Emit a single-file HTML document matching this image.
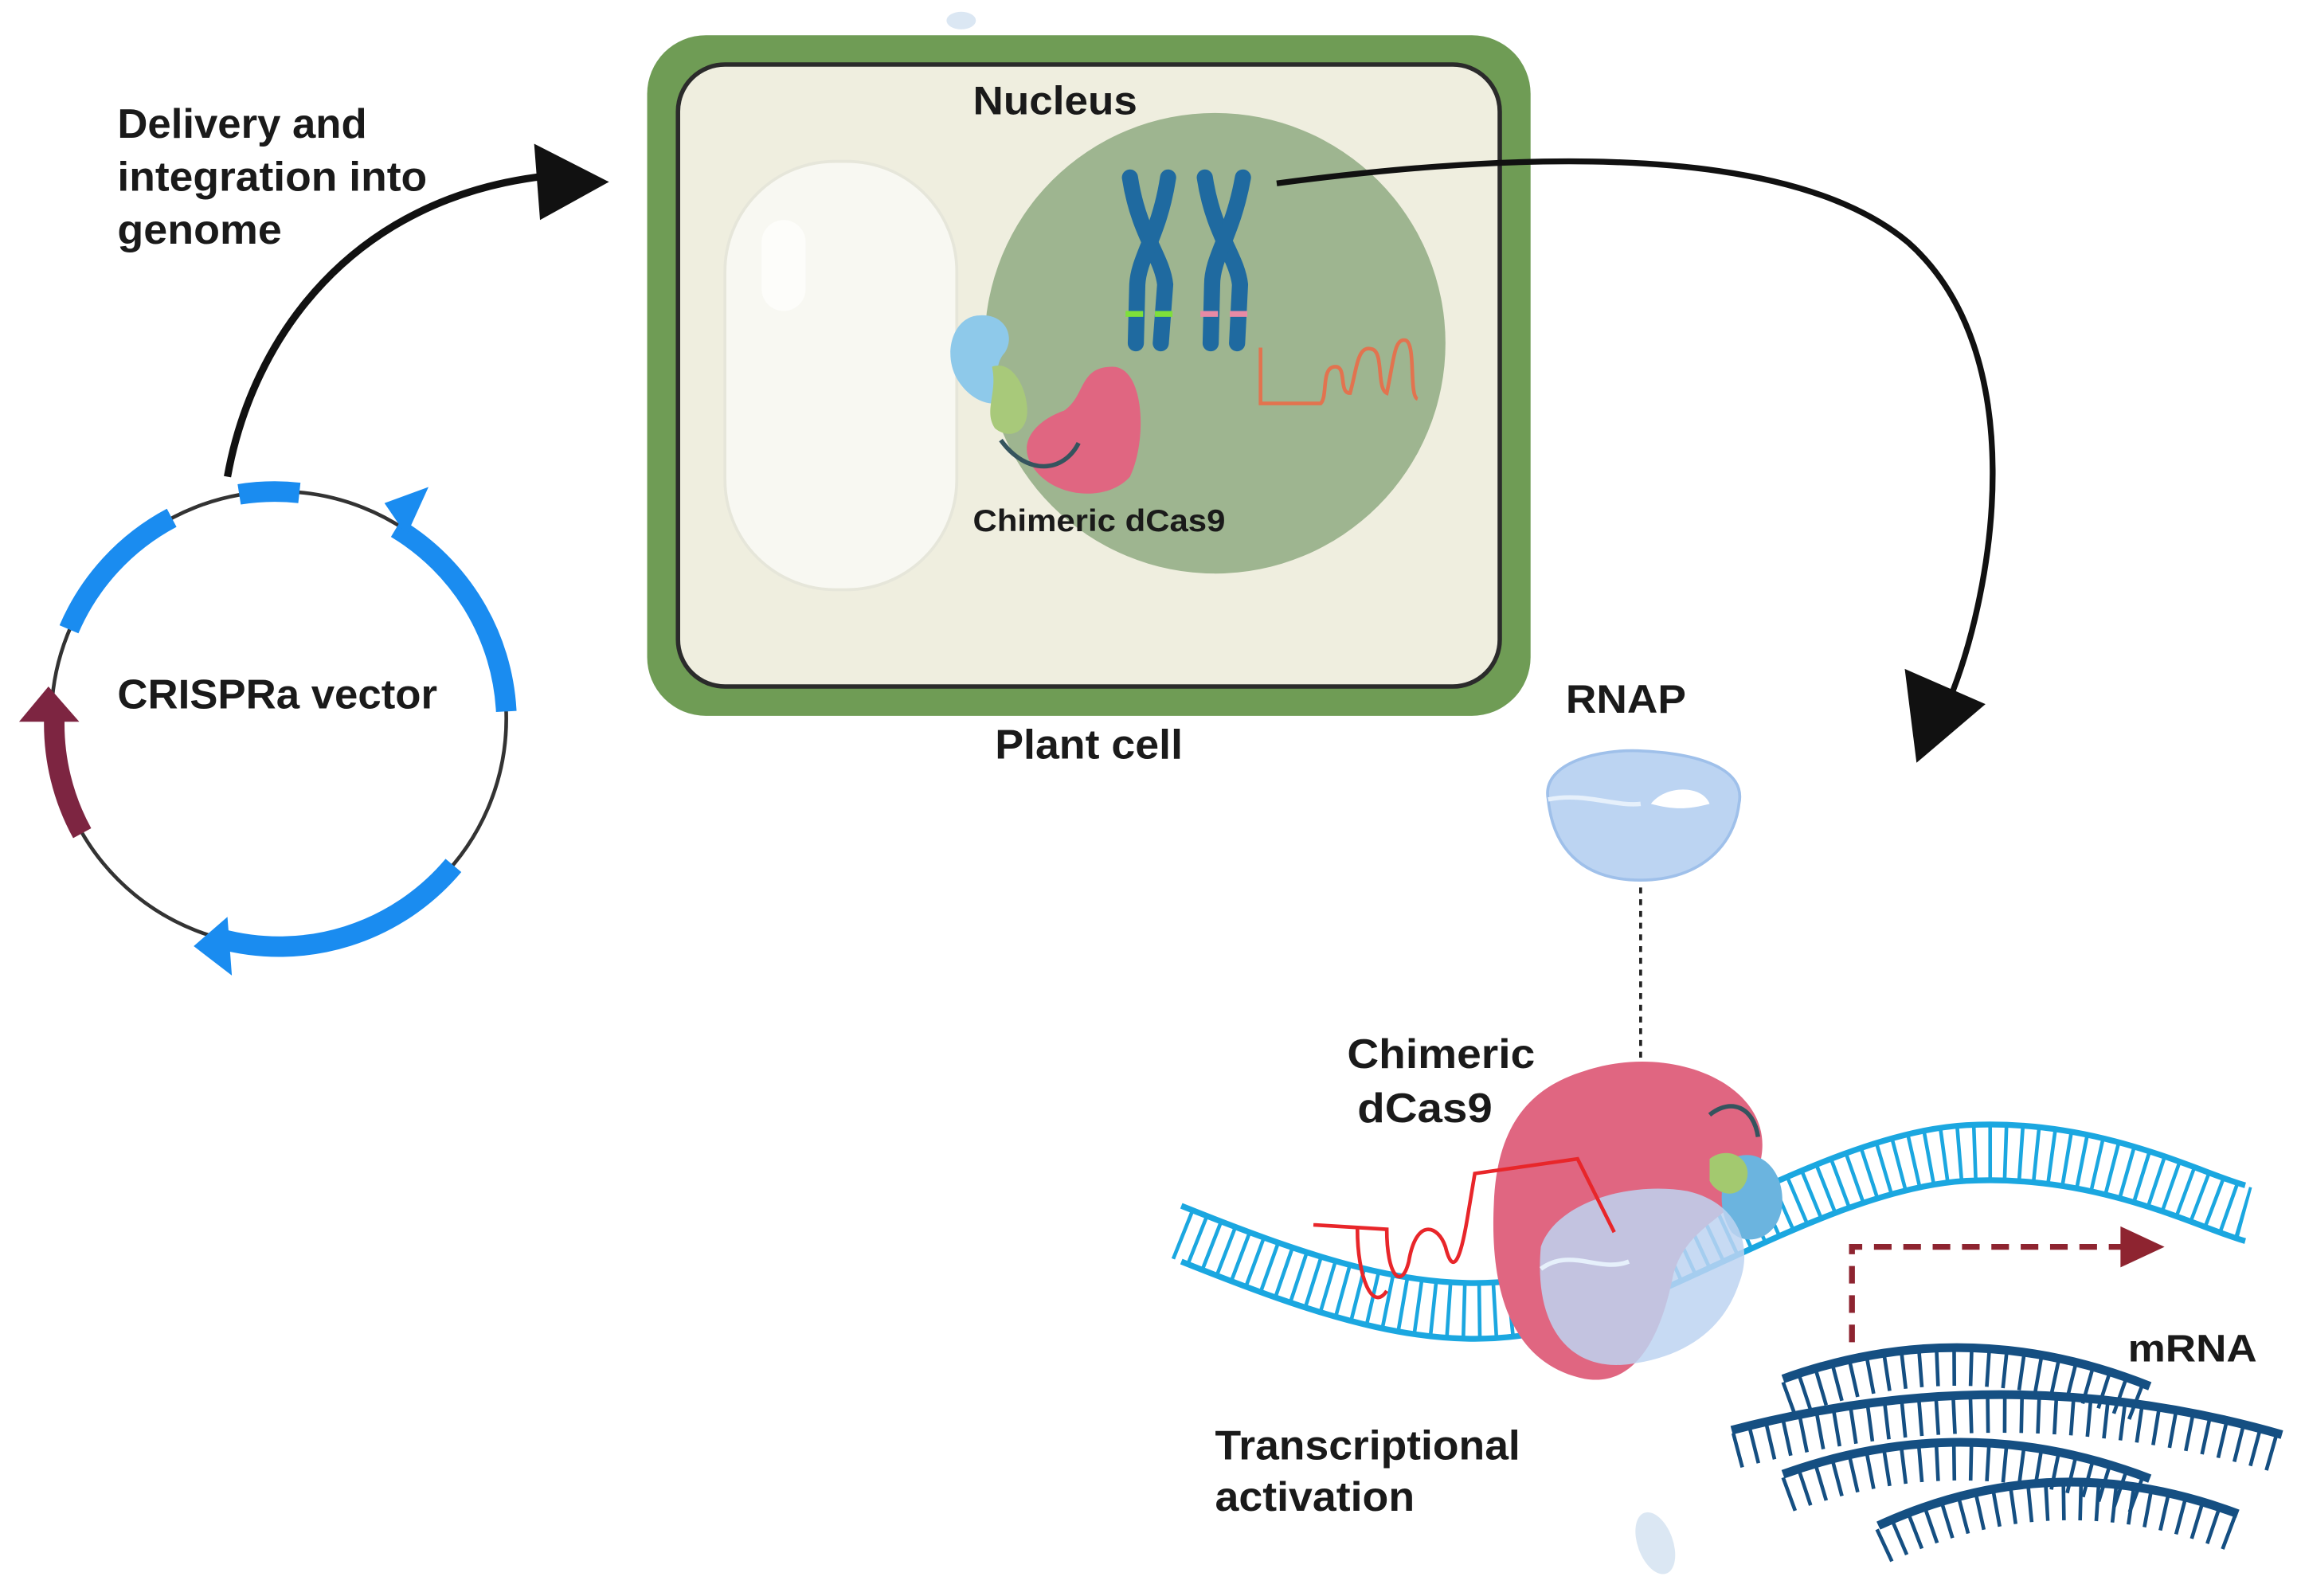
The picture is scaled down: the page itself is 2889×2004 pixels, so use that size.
<!DOCTYPE html>
<html><head><meta charset="utf-8"><style>
html,body{margin:0;padding:0;background:#fff;}
svg{display:block;}
text{font-family:"Liberation Sans",sans-serif;font-weight:bold;fill:#1a1a1a;}
</style></head><body>
<svg width="2889" height="2004" viewBox="0 0 1568 1088" preserveAspectRatio="none" xmlns="http://www.w3.org/2000/svg">
<rect width="1568" height="1088" fill="#fff"/>
<ellipse cx="655" cy="14" rx="10" ry="6" fill="#dbe7f3"/>
<ellipse cx="1128" cy="1052" rx="12" ry="22" fill="#dbe7f3" transform="rotate(-20 1128 1052)"/>
<rect x="441" y="24" width="602" height="464" rx="40" fill="#6f9c55"/>
<rect x="462" y="44" width="560" height="424" rx="32" fill="#efeedf" stroke="#2b2b2b" stroke-width="3"/>
<rect x="494" y="110" width="158" height="292" rx="75" fill="#f8f8f2" stroke="#e6e6da" stroke-width="2"/>
<rect x="519" y="150" width="30" height="62" rx="15" fill="#fdfdfa"/>
<circle cx="828" cy="234" r="157" fill="#9eb590"/>
<g stroke="#1f6aa0" stroke-width="11" stroke-linecap="round" fill="none">
<path d="M770,121 C776,160 792,175 794,194 L791,234"/><path d="M796,121 C790,160 776,175 775,194 L774,234"/>
<path d="M821,121 C827,160 843,175 845,194 L843,234"/><path d="M847,121 C840,160 826,175 826,194 L825,234"/>
</g>
<rect x="767" y="212" width="12" height="4" fill="#7ee03a"/><rect x="787" y="212" width="12" height="4" fill="#7ee03a"/>
<rect x="818" y="212" width="12" height="4" fill="#e88aa5"/><rect x="838" y="212" width="12" height="4" fill="#e88aa5"/>
<path d="M859,237 L859,275 L900,275 C905,270 900,250 910,250 C918,250 912,268 920,268 C925,250 925,235 935,238 C943,240 938,265 945,268 C950,245 950,230 958,232 C965,235 960,270 966,272" fill="none" stroke="#e2734f" stroke-width="2.5"/>
<path d="M758,250 C780,250 782,300 770,325 C755,342 720,340 705,320 C690,300 710,285 725,280 C740,270 735,250 758,250Z" fill="#e06681"/>
<path d="M668,215 C650,215 642,240 652,258 C662,275 680,280 690,270 C680,262 676,250 685,240 C692,228 684,214 668,215Z" fill="#8ec9ea"/>
<path d="M676,250 C690,245 700,265 700,280 C700,295 688,300 678,292 C670,280 680,268 676,250Z" fill="#a8c97a"/>
<path d="M682,300 C700,325 725,322 735,302" fill="none" stroke="#35545e" stroke-width="3"/>
<path d="M870,125 C1000,108 1210,90 1300,165 C1385,240 1360,400 1328,478" fill="none" stroke="#111" stroke-width="4"/>
<polygon points="1306,520 1298,456 1353,480" fill="#111"/>
<path d="M155,325 C172,230 240,135 372,120" fill="none" stroke="#111" stroke-width="5"/>
<polygon points="415,124 364,98 368,150" fill="#111"/>
<circle cx="190" cy="490" r="155" fill="none" stroke="#333" stroke-width="2.5"/>
<g fill="none" stroke="#1a8cf0" stroke-width="14">
<path d="M163,337 A155,155 0 0 1 204,336"/>
<path d="M117,353 A155,155 0 0 0 47,429"/>
<path d="M270,360 A155,155 0 0 1 345,485"/>
<path d="M309,590 A155,155 0 0 1 150,640"/>
</g>
<polygon points="262,343 292,332 277,365" fill="#1a8cf0"/>
<polygon points="132,645 155,625 158,665" fill="#1a8cf0"/>
<path d="M56,568 A155,155 0 0 1 37,490" fill="none" stroke="#7d2541" stroke-width="14"/>
<polygon points="33,468 13,492 54,492" fill="#7d2541"/>
<path d="M1055,545 C1050,520 1090,510 1120,512 C1160,514 1190,525 1185,548 C1182,575 1160,600 1118,600 C1075,600 1058,575 1055,545Z" fill="#bcd4f2" stroke="#9fc0ea" stroke-width="2"/>
<path d="M1125,548 C1135,535 1160,535 1165,548 C1150,552 1140,552 1125,548Z" fill="#fff"/>
<path d="M1055,545 C1080,540 1100,550 1118,548" fill="none" stroke="#e6f0fb" stroke-width="3"/>
<line x1="1118" y1="605" x2="1118" y2="780" stroke="#222" stroke-width="2" stroke-dasharray="4 4"/>
<polygon points="1118,798 1111,780 1125,780" fill="#222"/>
<g fill="none" stroke="#1ba7e0">
<path d="M805,822 C900,860 980,888 1060,868 S1250,772 1340,767 S1500,800 1530,808" stroke-width="4"/>
<path d="M805,860 C900,898 980,926 1060,906 S1250,810 1340,805 S1500,838 1530,846" stroke-width="4"/>
<path d="M805,841 C900,879 980,907 1060,887 S1250,791 1340,786 S1500,819 1530,827" stroke-width="36" stroke-dasharray="2.5 8"/>
</g>
<path d="M1080,730 C1140,710 1210,740 1200,790 C1190,830 1150,830 1140,870 C1130,920 1110,945 1080,940 C1030,930 1015,880 1018,820 C1020,770 1040,742 1080,730Z" fill="#e06681"/>
<path d="M1165,760 C1180,748 1195,755 1198,775" fill="none" stroke="#35545e" stroke-width="3"/>
<path d="M1180,790 C1200,780 1218,800 1214,825 C1210,845 1190,850 1180,840 C1170,825 1172,805 1180,790Z" fill="#6bb4df"/>
<path d="M1165,790 C1178,780 1195,790 1190,805 C1185,818 1170,815 1165,805Z" fill="#a3c96f"/>
<path d="M1050,850 C1060,820 1110,805 1150,812 C1185,820 1195,850 1185,875 C1175,905 1150,925 1110,930 C1070,935 1045,905 1050,850Z" fill="#bdd3f1" opacity="0.85"/>
<path d="M1050,865 C1070,850 1090,868 1110,860" fill="none" stroke="#e6f0fb" stroke-width="3"/>
<path d="M895,835 L945,838 C945,870 955,880 960,860 C965,830 980,835 985,850 C990,870 995,860 1000,830 L1005,800 L1075,790 L1100,840" fill="none" stroke="#e8262a" stroke-width="2.5"/>
<path d="M925,838 C925,870 935,895 945,880" fill="none" stroke="#e8262a" stroke-width="2.5"/>
<path d="M1262,915 L1262,850 L1450,850" fill="none" stroke="#8e2430" stroke-width="4" stroke-dasharray="12 8"/>
<polygon points="1475,850 1445,836 1445,864" fill="#8e2430"/>
<g fill="none" stroke="#154f82">
<path d="M1215,940 Q1340,895 1465,945" stroke-width="6"/>
<path d="M1218,954 Q1340,909 1462,959" stroke-width="24" stroke-dasharray="2.5 9"/>
<path d="M1180,975 Q1370,925 1555,978" stroke-width="6"/>
<path d="M1183,989 Q1370,939 1552,992" stroke-width="24" stroke-dasharray="2.5 9"/>
<path d="M1215,1005 Q1340,960 1465,1008" stroke-width="6"/>
<path d="M1218,1019 Q1340,974 1462,1022" stroke-width="24" stroke-dasharray="2.5 9"/>
<path d="M1280,1040 Q1400,985 1525,1032" stroke-width="6"/>
<path d="M1283,1054 Q1400,999 1522,1046" stroke-width="24" stroke-dasharray="2.5 9"/>
</g>
<text x="80" y="94" font-size="28" textLength="170" lengthAdjust="spacingAndGlyphs">Delivery and</text>
<text x="80" y="130" font-size="28" textLength="211" lengthAdjust="spacingAndGlyphs">integration into</text>
<text x="80" y="166" font-size="28" textLength="112" lengthAdjust="spacingAndGlyphs">genome</text>
<text x="80" y="483" font-size="28" textLength="218" lengthAdjust="spacingAndGlyphs">CRISPRa vector</text>
<text x="663" y="78" font-size="27" textLength="112" lengthAdjust="spacingAndGlyphs">Nucleus</text>
<text x="663" y="362" font-size="21" textLength="172" lengthAdjust="spacingAndGlyphs">Chimeric dCas9</text>
<text x="678" y="517" font-size="28" textLength="128" lengthAdjust="spacingAndGlyphs">Plant cell</text>
<text x="1067" y="486" font-size="27" textLength="82" lengthAdjust="spacingAndGlyphs">RNAP</text>
<text x="918" y="728" font-size="28" textLength="128" lengthAdjust="spacingAndGlyphs">Chimeric</text>
<text x="925" y="765" font-size="28" textLength="92" lengthAdjust="spacingAndGlyphs">dCas9</text>
<text x="828" y="995" font-size="28" textLength="208" lengthAdjust="spacingAndGlyphs">Transcriptional</text>
<text x="828" y="1030" font-size="28" textLength="136" lengthAdjust="spacingAndGlyphs">activation</text>
<text x="1450" y="928" font-size="26" textLength="88" lengthAdjust="spacingAndGlyphs">mRNA</text>
</svg>
</body></html>
